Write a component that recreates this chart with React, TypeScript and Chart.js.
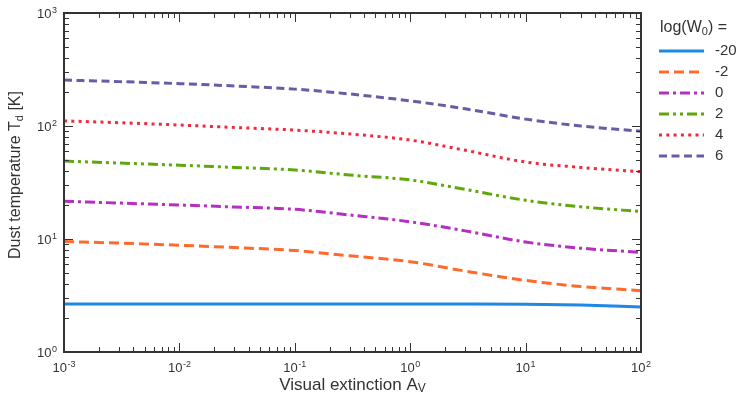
import React, { useEffect, useRef } from "react";
import { Chart, registerables } from "chart.js";

Chart.register(...registerables);

const extinction = [0.001, 0.003, 0.01, 0.03, 0.1, 0.3, 1, 3, 10, 30, 100];
const seriesLabels = ["-20", "-2", "0", "2", "4", "6"];
const tempW_m20 = [2.66, 2.66, 2.66, 2.66, 2.66, 2.66, 2.66, 2.66, 2.65, 2.6, 2.5];
const tempW_m2 = [9.5, 9.2, 8.8, 8.4, 7.9, 7.1, 6.3, 5.2, 4.3, 3.8, 3.49];
const tempW_0 = [21.6, 20.8, 20.0, 19.2, 18.3, 16.3, 14.2, 11.8, 9.4, 8.3, 7.6];
const tempW_2 = [49, 47, 45, 43, 40.8, 36.8, 33.3, 27.5, 22, 19.3, 17.5];
const tempW_4 = [111, 107, 102, 97, 92, 85, 75, 61, 48, 43, 39.4];
const tempW_6 = [255, 247, 237, 226, 212, 192, 167, 142, 115, 100, 90];
const xDecades = [-3, -2, -1, 0, 1, 2];
const yDecades = [0, 1, 2, 3];

const colors = ["#1e88e5", "#ff6a2a", "#b52fc0", "#5fa80a", "#f2283c", "#675ca6"];
const dashes: number[][] = [[], [10, 5], [10, 4, 3, 4], [10, 4, 3, 4, 3, 4], [3, 4.3], [8, 4.5]];

const FONT = "'Liberation Sans', Arial, sans-serif";
const TEXT = "#333";

const decoPlugin = {
  id: "deco",
  afterDatasetsDraw(chart: any) {
    const ctx = chart.ctx;
    const { left, right, top, bottom } = chart.chartArea;
    const xs = chart.scales.x;
    const ys = chart.scales.y;
    ctx.save();
    ctx.strokeStyle = "#333";
    ctx.lineWidth = 1;
    ctx.setLineDash([]);
    for (let d = -3; d <= 2; d++) {
      for (let m = 1; m <= 9; m++) {
        const v = m * Math.pow(10, d);
        if (v > 100.0001) continue;
        const px = Math.round(xs.getPixelForValue(v)) + 0.5;
        const len = m === 1 ? 9 : 5;
        ctx.beginPath();
        ctx.moveTo(px, bottom);
        ctx.lineTo(px, bottom - len);
        ctx.moveTo(px, top);
        ctx.lineTo(px, top + len);
        ctx.stroke();
      }
    }
    for (let d = 0; d <= 3; d++) {
      for (let m = 1; m <= 9; m++) {
        const v = m * Math.pow(10, d);
        if (v > 1000.0001) continue;
        const py = Math.round(ys.getPixelForValue(v)) + 0.5;
        const len = m === 1 ? 9 : 5;
        ctx.beginPath();
        ctx.moveTo(left, py);
        ctx.lineTo(left + len, py);
        ctx.moveTo(right, py);
        ctx.lineTo(right - len, py);
        ctx.stroke();
      }
    }
    ctx.lineWidth = 2;
    ctx.strokeRect(left, top, right - left, bottom - top);

    ctx.fillStyle = TEXT;
    ctx.textBaseline = "alphabetic";
    const drawPow = (exp: number, cx: number, baseY: number, align: string) => {
      ctx.font = `13px ${FONT}`;
      const wb = ctx.measureText("10").width;
      ctx.font = `9px ${FONT}`;
      const es = String(exp);
      const we = ctx.measureText(es).width;
      const total = wb + we + 0.5;
      let x0 = cx - total / 2;
      if (align === "right") x0 = cx - total;
      ctx.font = `13px ${FONT}`;
      ctx.textAlign = "left";
      ctx.fillText("10", x0, baseY);
      ctx.font = `9px ${FONT}`;
      ctx.fillText(es, x0 + wb + 0.5, baseY - 5);
    };
    for (const d of xDecades) {
      drawPow(d, xs.getPixelForValue(Math.pow(10, d)), bottom + 20, "center");
    }
    for (const d of yDecades) {
      drawPow(d, left - 7, ys.getPixelForValue(Math.pow(10, d)) + 5, "right");
    }

    const drawSub = (main: string, sub: string, tail: string, cx: number, cy: number, rot: number, size: number) => {
      ctx.save();
      ctx.translate(cx, cy);
      ctx.rotate(rot);
      const subSize = Math.round(size * 0.7);
      ctx.font = `${size}px ${FONT}`;
      const w1 = ctx.measureText(main).width;
      const w3 = ctx.measureText(tail).width;
      ctx.font = `${subSize}px ${FONT}`;
      const w2 = ctx.measureText(sub).width;
      const total = w1 + w2 + w3;
      let x = -total / 2;
      ctx.textAlign = "left";
      ctx.textBaseline = "middle";
      ctx.font = `${size}px ${FONT}`;
      ctx.fillText(main, x, 0);
      x += w1;
      ctx.font = `${subSize}px ${FONT}`;
      ctx.fillText(sub, x, 4);
      x += w2;
      ctx.font = `${size}px ${FONT}`;
      ctx.fillText(tail, x, 0);
      ctx.restore();
    };
    drawSub("Visual extinction A", "V", "", (left + right) / 2, 385, 0, 17);
    drawSub("Dust temperature T", "d", " [K]", 16, 175, -Math.PI / 2, 16);

    const lx = right + 17;
    ctx.textAlign = "left";
    ctx.textBaseline = "middle";
    ctx.font = `16px ${FONT}`;
    const t1 = "log(W";
    ctx.fillText(t1, lx + 2, 28);
    const wt1 = ctx.measureText(t1).width;
    ctx.font = `11px ${FONT}`;
    ctx.fillText("0", lx + 2 + wt1, 32);
    const wt2 = ctx.measureText("0").width;
    ctx.font = `16px ${FONT}`;
    ctx.fillText(") =", lx + 2 + wt1 + wt2, 28);

    chart.data.datasets.forEach((ds: any, i: number) => {
      const y = 51 + i * 21;
      ctx.save();
      ctx.strokeStyle = ds.borderColor;
      ctx.lineWidth = ds.borderWidth;
      ctx.setLineDash(ds.borderDash || []);
      ctx.lineCap = "butt";
      ctx.beginPath();
      ctx.moveTo(lx + 1, y);
      ctx.lineTo(lx + 46, y);
      ctx.stroke();
      ctx.restore();
      ctx.fillStyle = TEXT;
      ctx.font = `15px ${FONT}`;
      ctx.fillText(ds.label, lx + 57, y);
    });
    ctx.restore();
  },
};

export default function App() {
  const ref = useRef<HTMLCanvasElement>(null);
  useEffect(() => {
    const series = [tempW_m20, tempW_m2, tempW_0, tempW_2, tempW_4, tempW_6];
    const chart = new Chart(ref.current as HTMLCanvasElement, {
      type: "line",
      data: {
        datasets: series.map((vals, i) => ({
          label: seriesLabels[i],
          data: extinction.map((x, j) => ({ x, y: vals[j] })),
          borderColor: colors[i],
          backgroundColor: colors[i],
          borderWidth: 3,
          borderDash: dashes[i],
          pointRadius: 0,
          cubicInterpolationMode: "monotone" as const,
          fill: false,
        })),
      },
      options: {
        animation: false,
        responsive: true,
        maintainAspectRatio: false,
        layout: { padding: { left: 64, right: 96, top: 13, bottom: 51 } },
        plugins: { legend: { display: false }, tooltip: { enabled: false } },
        scales: {
          x: { type: "logarithmic", min: 0.001, max: 100, display: false },
          y: { type: "logarithmic", min: 1, max: 1000, display: false },
        },
      },
      plugins: [decoPlugin],
    });
    return () => chart.destroy();
  }, []);
  return (
    <div style={{ position: "absolute", left: 0, top: 0, width: "737px", height: "403px" }}>
      <canvas ref={ref} />
    </div>
  );
}
